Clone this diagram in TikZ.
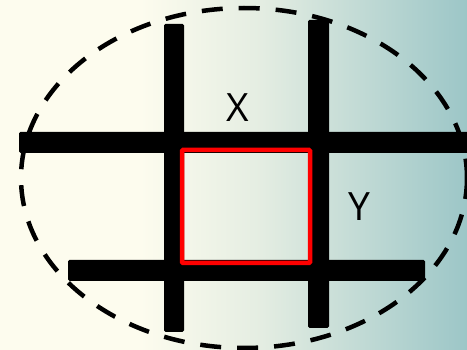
\documentclass[tikz,border=0pt]{standalone}
\usepackage{fontspec}
\setmainfont{Open Sans}
\definecolor{cream}{HTML}{FDFCEE}
\definecolor{tealbg}{HTML}{9CC6C7}
\definecolor{midbg}{HTML}{E4EDE2}
\pgfdeclarehorizontalshading{bgshade}{100bp}{color(0bp)=(cream); color(40bp)=(cream); color(53bp)=(midbg); color(75bp)=(tealbg); color(100bp)=(tealbg)}
\tikzset{
  bar/.style={fill=black, rounded corners=1.5pt},
  rim/.style={draw=black, line width=4.5pt, dash pattern=on 21pt off 16pt},
  frame/.style={draw=red, line width=4.5pt, rounded corners=1pt},
  lbl/.style={font=\fontsize{39}{39}\selectfont, text=black, inner sep=0pt}
}
\begin{document}
\begin{tikzpicture}[x=1pt,y=-1pt]
\useasboundingbox (0,0) rectangle (467,350);
\shade[shading=bgshade] (0,0) rectangle (467,350);
\draw[rim] (244,178) ellipse [x radius=223, y radius=170];
\fill[bar] (19,132) rectangle (472,153);
\fill[bar] (68,260) rectangle (425,281);
\fill[bar] (164,24) rectangle (184,332);
\fill[bar] (308,20) rectangle (329,328);
\draw[frame] (182,150) rectangle (310,263);
\node[lbl] (x) at (238,108) {X};
\node[lbl] (y) at (359,207) {Y};
\end{tikzpicture}
\end{document}
